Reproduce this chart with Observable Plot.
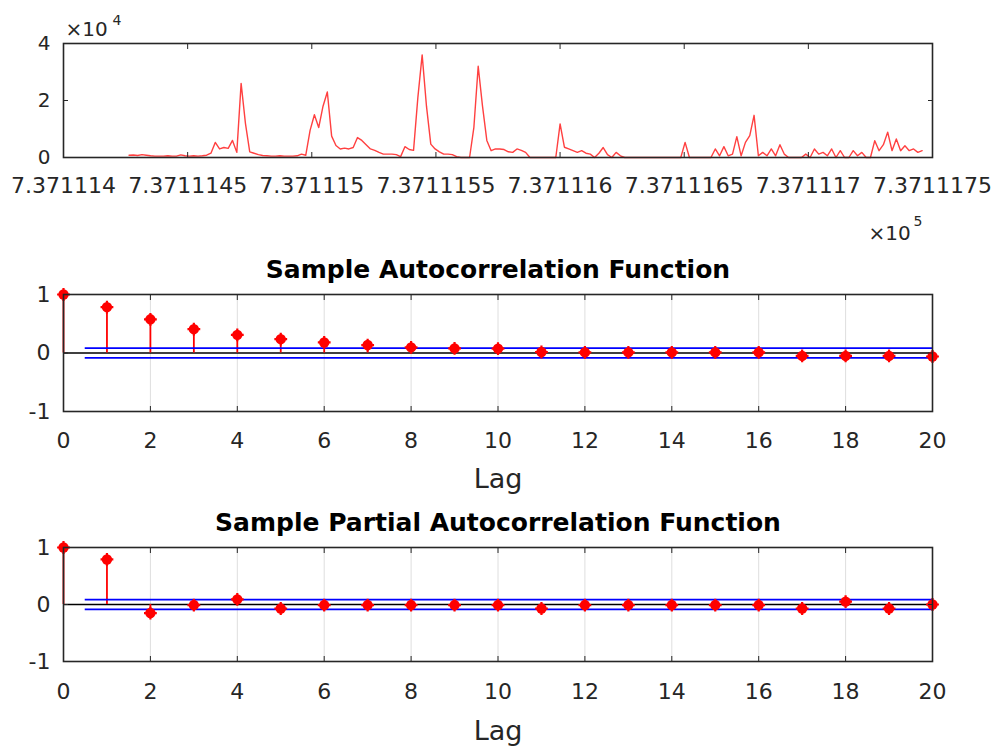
<!DOCTYPE html>
<html><head><meta charset="utf-8">
<script src="https://cdn.jsdelivr.net/npm/d3@7"></script>
<script src="https://cdn.jsdelivr.net/npm/@observablehq/plot@0.6"></script>
<style>
body{margin:0;background:#fff;}
#root{position:relative;width:995px;height:749px;overflow:hidden;background:#fff;}
#root > div{position:absolute;left:0;}
</style></head><body>
<div id="root"><div id="p1" style="top:0px"></div><div id="p2" style="top:250px"></div><div id="p3" style="top:500px"></div></div>
<script>
// ---- data ----
const startTime = 737111.4264;   // datenum of first sample
const sampleStep = 0.0017361;    // 2.5 minutes, in days
const seriesValues = [
  800, 900, 700, 1000, 800, 600, 500, 500, 500, 600,
  500, 500, 900, 600, 500, 600, 500, 600, 800, 1500,
  5300, 3000, 3500, 3200, 6000, 1800, 26000, 12000, 2000, 1500,
  1000, 700, 600, 500, 500, 600, 500, 500, 500, 600,
  1200, 800, 9500, 15000, 10500, 18000, 23000, 7500, 4200, 3000,
  3300, 3000, 3500, 7000, 6000, 4500, 3000, 2500, 1800, 1200,
  1200, 1200, 1000, 300, 3800, 2800, 2500, 21000, 36000, 18000,
  4700, 3000, 2000, 1200, 1200, 1000, 300, 0, 0, 0,
  10600, 32000, 18000, 6000, 2400, 3000, 3000, 2800, 2000, 1800,
  3000, 2500, 1800, 0, 0, 0, 0, 0, 0, 0,
  11800, 3600, 3000, 2400, 1800, 2400, 1500, 1200, 0, 1500,
  3500, 1000, 0, 1800, 600, 0, 0, 0, 0, 0,
  0, 0, 0, 0, 0, 0, 0, 0, 0, 5300,
  0, 0, 0, 0, 0, 0, 3000, 600, 3800, 600,
  1200, 7300, 600, 5300, 7700, 14800, 600, 1800, 600, 3000,
  600, 4500, 1200, 0, 0, 0, 0, 1200, 0, 3000,
  1200, 1800, 600, 3000, 0, 2400, 0, 0, 2400, 600,
  1800, 0, 0, 5900, 2400, 4500, 8900, 2400, 6500, 2400,
  4100, 2400, 3000, 1800, 2400
];
const timeTicks = [737111.40, 737111.45, 737111.50, 737111.55, 737111.60, 737111.65, 737111.70, 737111.75];
const timeTickLabels = ["7.371114", "7.3711145", "7.371115", "7.3711155", "7.371116", "7.3711165", "7.371117", "7.3711175"];
const valueTicks = [0, 20000, 40000];
const valueTickLabels = ["0", "2", "4"];

const lags = [0, 1, 2, 3, 4, 5, 6, 7, 8, 9, 10, 11, 12, 13, 14, 15, 16, 17, 18, 19, 20];
const acfValues = [1, 0.785, 0.576, 0.407, 0.31, 0.237, 0.18, 0.136, 0.096, 0.079, 0.075, 0.017, 0.01, 0.01, 0.01, 0.01, 0.01, -0.05, -0.05, -0.05, -0.06];
const pacfValues = [1, 0.79, -0.15, -0.01, 0.09, -0.07, -0.01, -0.01, -0.01, -0.01, -0.01, -0.07, -0.01, -0.01, -0.01, -0.01, -0.01, -0.07, 0.05, -0.07, 0.0];
const acfBound = 0.085;
const pacfBound = 0.085;
const boundStartLag = 0.5;
const lagTicks = [0, 2, 4, 6, 8, 10, 12, 14, 16, 18, 20];
const corrTicks = [-1, 0, 1];
const corrTickLabels = ["-1", "0", "1"];
const acfTitle = "Sample Autocorrelation Function";
const pacfTitle = "Sample Partial Autocorrelation Function";
const lagLabel = "Lag";

// ---- drawing ----
const FONT = '"DejaVu Sans", sans-serif';
const INK = "#262626";
const series = seriesValues.map((v, i) => ({t: startTime + i * sampleStep, v}));

const p1 = Plot.plot({
  width: 995, height: 250,
  marginLeft: 63, marginRight: 63, marginTop: 43, marginBottom: 93,
  style: {fontFamily: FONT, color: INK, background: "white", overflow: "visible"},
  x: {domain: [timeTicks[0], timeTicks[timeTicks.length - 1]], label: null},
  y: {domain: [valueTicks[0], valueTicks[valueTicks.length - 1]], label: null},
  marks: [
    Plot.line(series, {x: "t", y: "v", stroke: "#ff4040", strokeWidth: 1.4}),
    Plot.frame({stroke: INK, strokeWidth: 1.6}),
    Plot.axisX({anchor: "bottom", ticks: timeTicks, tickSize: -5, tickPadding: 25, fontSize: 22, label: null,
      tickFormat: d => timeTickLabels[timeTicks.indexOf(d)]}),
    Plot.axisX({anchor: "top", ticks: timeTicks, tickSize: -5, label: null, tickFormat: () => ""}),
    Plot.axisY({anchor: "left", ticks: valueTicks, tickSize: -5, tickPadding: 18, fontSize: 20, label: null,
      tickFormat: d => valueTickLabels[valueTicks.indexOf(d)]}),
    Plot.axisY({anchor: "right", ticks: valueTicks, tickSize: -5, label: null, tickFormat: () => ""}),
    Plot.text(["×10"], {frameAnchor: "top-left", dx: 2, dy: -14, textAnchor: "start", lineAnchor: "middle", fontSize: 20, fill: INK}),
    Plot.text(["4"], {frameAnchor: "top-left", dx: 49, dy: -23, textAnchor: "start", lineAnchor: "middle", fontSize: 14, fill: INK}),
    Plot.text(["×10"], {frameAnchor: "bottom-right", dx: -64, dy: 76, textAnchor: "start", lineAnchor: "middle", fontSize: 20, fill: INK}),
    Plot.text(["5"], {frameAnchor: "bottom-right", dx: -19, dy: 64, textAnchor: "start", lineAnchor: "middle", fontSize: 14, fill: INK})
  ]
});
document.getElementById("p1").append(p1);

function corrPanel(values, bound, title, o) {
  const data = lags.map((lag, i) => ({lag, value: values[i]}));
  return Plot.plot({
    width: 995, height: o.height,
    marginLeft: 63, marginRight: 63, marginTop: o.top, marginBottom: o.bottom,
    style: {fontFamily: FONT, color: INK, background: "white", overflow: "visible"},
    x: {domain: [lagTicks[0], lagTicks[lagTicks.length - 1]], label: null},
    y: {domain: [corrTicks[0], corrTicks[corrTicks.length - 1]], label: null},
    marks: [
      Plot.ruleX(lagTicks, {stroke: "#dedede", strokeWidth: 1}),
      Plot.ruleY([0], {stroke: "#000", strokeWidth: 1.6}),
      Plot.ruleX(data, {x: "lag", y1: 0, y2: "value", stroke: "#ff0000", strokeWidth: 1.8}),
      Plot.ruleY([bound, -bound], {x1: boundStartLag, x2: lagTicks[lagTicks.length - 1], stroke: "#0000ff", strokeWidth: 1.8}),
      Plot.dot(data, {x: "lag", y: "value", r: 5.2, fill: "#ff0000"}),
      Plot.dot(data, {x: "lag", y: "value", r: 4.2, symbol: "plus", stroke: "#ff0000", strokeWidth: 2.2}),
      Plot.frame({stroke: INK, strokeWidth: 1.6}),
      Plot.axisX({anchor: "bottom", ticks: lagTicks, tickSize: -5, tickPadding: o.tickPad, fontSize: 22, label: null}),
      Plot.axisX({anchor: "top", ticks: lagTicks, tickSize: -5, label: null, tickFormat: () => ""}),
      Plot.axisY({anchor: "left", ticks: corrTicks, tickSize: -5, tickPadding: 18, fontSize: 22, label: null,
        tickFormat: d => corrTickLabels[corrTicks.indexOf(d)]}),
      Plot.axisY({anchor: "right", ticks: corrTicks, tickSize: -5, label: null, tickFormat: () => ""}),
      Plot.text([title], {frameAnchor: "top", dy: o.titleDy, fontSize: 25, fontWeight: "bold", fill: "#000", lineAnchor: "middle"}),
      Plot.text([lagLabel], {frameAnchor: "bottom", dy: o.lagDy, fontSize: 27, fill: INK, lineAnchor: "middle"})
    ]
  });
}

document.getElementById("p2").append(corrPanel(acfValues, acfBound, acfTitle, {height: 250, top: 44, bottom: 89, tickPad: 26, titleDy: -25, lagDy: 68}));
document.getElementById("p3").append(corrPanel(pacfValues, pacfBound, pacfTitle, {height: 249, top: 47, bottom: 88, tickPad: 27, titleDy: -25, lagDy: 70}));
</script>
</body></html>
